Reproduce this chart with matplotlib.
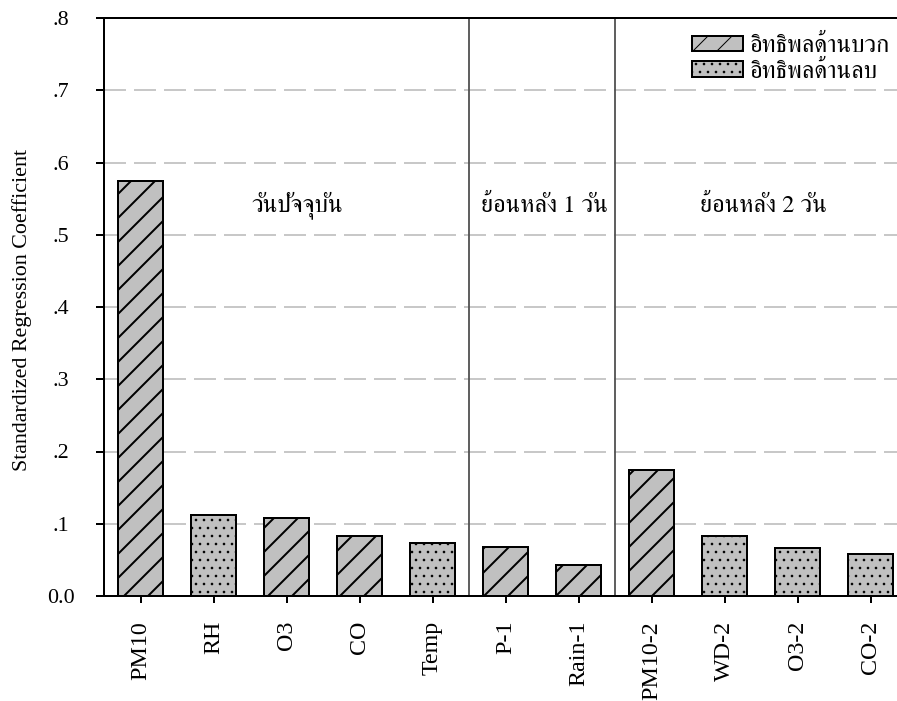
import matplotlib
matplotlib.use("Agg")
import matplotlib.pyplot as plt
import numpy as np

# ตัวแปรและค่า standardized regression coefficient
variables = ["PM10", "RH", "O3", "CO", "Temp", "P-1", "Rain-1",
             "PM10-2", "WD-2", "O3-2", "CO-2"]
coefs = [0.575, 0.112, 0.108, 0.083, 0.074, 0.068, 0.043,
         0.174, 0.083, 0.067, 0.058]
effect = ["pos", "neg", "pos", "pos", "neg", "pos", "pos",
          "pos", "neg", "neg", "neg"]

group_names = ["วันปัจจุบัน", "ย้อนหลัง 1 วัน", "ย้อนหลัง 2 วัน"]
group_sizes = [5, 2, 4]
legend_names = {"pos": "อิทธิพลด้านบวก", "neg": "อิทธิพลด้านลบ"}

yticks = [0.0, 0.1, 0.2, 0.3, 0.4, 0.5, 0.6, 0.7, 0.8]
ytick_labels = ["0.0", ".1", ".2", ".3", ".4", ".5", ".6", ".7", ".8"]

DPI = 144
W, H = 897, 701
plt.rcParams["font.family"] = ["Liberation Serif", "FreeSerif"]
thai = ["FreeSerif"]

fig = plt.figure(figsize=(W / DPI, H / DPI), dpi=DPI)
# แกนยื่นเลยขอบขวาของภาพ เหมือนต้นฉบับ
ax = fig.add_axes([104 / W, 1 - 596 / H, 803 / W, (596 - 18) / H])

x = np.arange(len(variables))
styles = {"pos": dict(hatch="//", hlw=1.0), "neg": dict(hatch="...", hlw=0.5)}
handles = {}
for kind in ["pos", "neg"]:
    idx = [i for i, e in enumerate(effect) if e == kind]
    plt.rcParams["hatch.linewidth"] = styles[kind]["hlw"]
    bars = ax.bar(x[idx], [coefs[i] for i in idx], width=0.62,
                  color="#c0c0c0", edgecolor="black", linewidth=1.0,
                  hatch=styles[kind]["hatch"], zorder=3,
                  label=legend_names[kind])
    for b in bars:
        if hasattr(b, "set_hatch_linewidth"):
            b.set_hatch_linewidth(styles[kind]["hlw"])
    handles[kind] = bars

# เส้นแบ่งกลุ่ม
bounds = np.cumsum(group_sizes)[:-1] - 0.5
for b in bounds:
    ax.axvline(b, color="#505050", lw=0.9, zorder=2)

label_x = [2.15, 5.53, 8.53]
for name, lx in zip(group_names, label_x):
    ax.text(lx, 0.532, name, family=thai, fontsize=12.2, ha="center",
            va="baseline", zorder=4)

ax.set_xlim(-0.5, 10.5)
ax.set_ylim(0, 0.8)
ax.set_yticks(yticks)
ax.set_yticklabels(ytick_labels, fontsize=11)
for t in ax.get_yticklabels():
    t.set_horizontalalignment("center")
ax.set_xticks(x)
ax.set_xticklabels(variables, rotation=90, fontsize=12)

ax.tick_params(axis="y", direction="out", length=4, width=1, pad=17.5)
ax.tick_params(axis="x", direction="out", length=3.5, width=1, pad=9)

ax.yaxis.grid(True, color="#c8c8c8", lw=1.0, linestyle=(0, (11, 4)))
ax.set_axisbelow(True)
for s in ["left", "bottom", "top"]:
    ax.spines[s].set_linewidth(1.0)
ax.spines["right"].set_visible(False)

fig.text(22 / W, 1 - 310 / H, "Standardized Regression Coefficient",
         rotation=90, fontsize=11, ha="center", va="center")

F = 12.2
leg = ax.legend([handles["pos"], handles["neg"]],
                [legend_names["pos"], legend_names["neg"]],
                prop={"family": thai, "size": F},
                loc="upper left", bbox_to_anchor=(692 / W, 1 - 35 / H),
                bbox_transform=fig.transFigure, frameon=False,
                borderpad=0, borderaxespad=0,
                handlelength=51 / (2 * F), handleheight=15 / (2 * F),
                handletextpad=7 / (2 * F), labelspacing=0.15)

fig.savefig("out.png", dpi=DPI)
